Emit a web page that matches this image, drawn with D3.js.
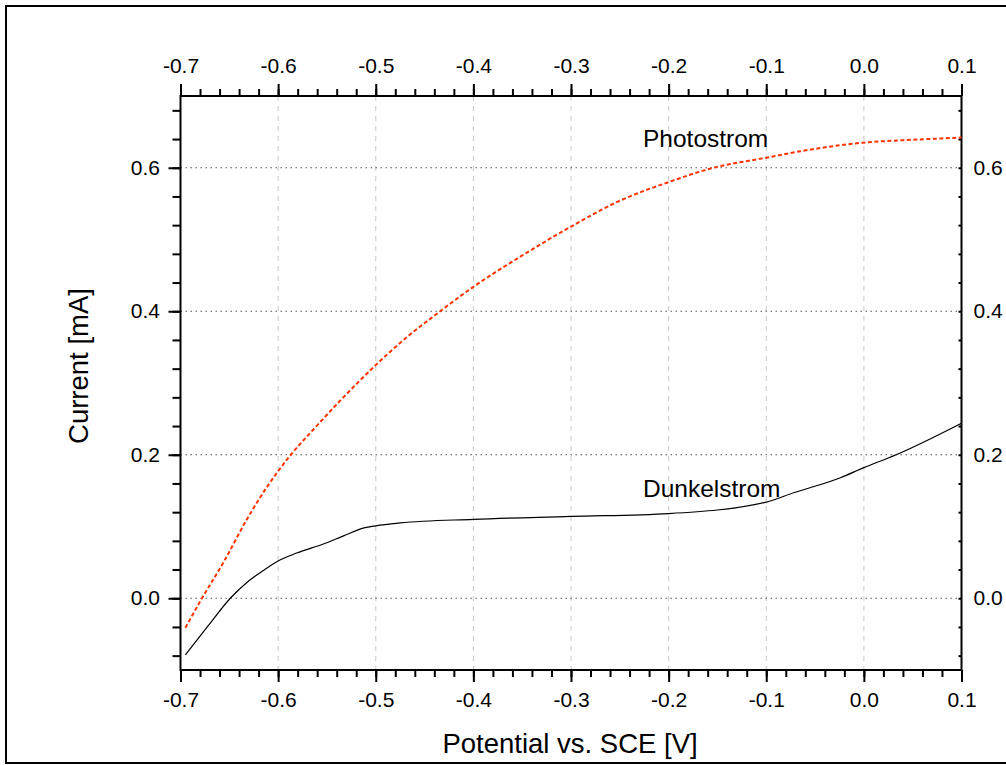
<!DOCTYPE html>
<html>
<head>
<meta charset="utf-8">
<script src="https://d3js.org/d3.v7.min.js"></script>
<style>
body { margin: 0; background: #fff; }
text { font-family: "Liberation Sans", Arial, sans-serif; fill: #000; }
</style>
</head>
<body>
<script>
//data
var photoX = [-0.695, -0.678, -0.656, -0.632, -0.611, -0.6, -0.587, -0.564, -0.536, -0.5, -0.468, -0.434, -0.4, -0.352, -0.3, -0.25, -0.2, -0.154, -0.1, -0.065, 0.0, 0.05, 0.1];
var photoY = [-0.041, 0.0, 0.05, 0.11, 0.156, 0.177, 0.2, 0.235, 0.276, 0.325, 0.364, 0.4, 0.434, 0.476, 0.518, 0.554, 0.58, 0.6, 0.614, 0.623, 0.635, 0.639, 0.642];
var darkX = [-0.695, -0.672, -0.649, -0.632, -0.618, -0.6, -0.581, -0.553, -0.533, -0.512, -0.5, -0.475, -0.4, -0.3, -0.2, -0.1, -0.072, -0.024, 0.0, 0.033, 0.1];
var darkY = [-0.079, -0.039, 0.0, 0.022, 0.036, 0.052, 0.063, 0.076, 0.087, 0.098, 0.101, 0.105, 0.11, 0.114, 0.118, 0.134, 0.147, 0.168, 0.182, 0.2, 0.244];
var xTicks = [-0.7, -0.6, -0.5, -0.4, -0.3, -0.2, -0.1, 0.0, 0.1];
var yTicks = [0.0, 0.2, 0.4, 0.6];

var W = 1006, H = 765;
var pLeft = 180.5, pRight = 961.5, pTop = 96, pBottom = 670;

var x = d3.scaleLinear().domain([-0.7, 0.1]).range([pLeft, pRight]);
var y = d3.scaleLinear().domain([-0.1, 0.7]).range([pBottom, pTop]);

// plain hyphen instead of unicode minus
var fmt = function (d) { return d3.format(".1f")(d).replace("\u2212", "-"); };

var svg = d3.select("body").append("svg")
    .attr("width", W)
    .attr("height", H);

// outer frame
svg.append("rect")
    .attr("x", 6).attr("y", 6)
    .attr("width", 1010).attr("height", 757)
    .attr("fill", "none").attr("stroke", "#000").attr("stroke-width", 2);

// grid
svg.append("g").selectAll("line")
    .data(xTicks.slice(1, -1))
    .enter().append("line")
    .attr("x1", function (d) { return x(d); })
    .attr("x2", function (d) { return x(d); })
    .attr("y1", pTop).attr("y2", pBottom)
    .attr("stroke", "#c8c8c8")
    .attr("stroke-dasharray", "5,5");

svg.append("g").selectAll("line")
    .data(yTicks)
    .enter().append("line")
    .attr("x1", pLeft).attr("x2", pRight)
    .attr("y1", function (d) { return y(d); })
    .attr("y2", function (d) { return y(d); })
    .attr("stroke", "#555")
    .attr("stroke-dasharray", "1.5,3.5");

// axes
var minorX = d3.range(-0.7, 0.1001, 0.02);
var minorY = d3.range(-0.08, 0.7, 0.04);

function styleAxis(g) {
    g.select(".domain").remove();
    g.attr("font-family", null).attr("font-size", null);
    g.selectAll("line").attr("stroke", "#000").attr("stroke-width", 2);
    g.selectAll("text").attr("font-size", 21);
}

svg.append("g").attr("transform", "translate(0," + pBottom + ")")
    .call(d3.axisBottom(x).tickValues(minorX).tickSize(7).tickFormat(""))
    .call(styleAxis);
svg.append("g").attr("transform", "translate(0," + pBottom + ")")
    .call(d3.axisBottom(x).tickValues(xTicks).tickSize(12).tickPadding(10).tickFormat(fmt))
    .call(styleAxis);

svg.append("g").attr("transform", "translate(0," + pTop + ")")
    .call(d3.axisTop(x).tickValues(minorX).tickSize(7).tickFormat(""))
    .call(styleAxis);
svg.append("g").attr("transform", "translate(0," + pTop + ")")
    .call(d3.axisTop(x).tickValues(xTicks).tickSize(12).tickPadding(11).tickFormat(fmt))
    .call(styleAxis);

svg.append("g").attr("transform", "translate(" + pLeft + ",0)")
    .call(d3.axisLeft(y).tickValues(minorY).tickSize(8).tickFormat(""))
    .call(styleAxis);
svg.append("g").attr("transform", "translate(" + pLeft + ",0)")
    .call(d3.axisLeft(y).tickValues(yTicks).tickSize(12).tickPadding(8.5).tickFormat(fmt))
    .call(styleAxis);

svg.append("g").attr("transform", "translate(" + pRight + ",0)")
    .call(d3.axisLeft(y).tickValues(minorY).tickSize(3).tickFormat(""))
    .call(styleAxis);
svg.append("g").attr("transform", "translate(" + pRight + ",0)")
    .call(d3.axisRight(y).tickValues(yTicks).tickSize(0).tickPadding(12).tickFormat(fmt))
    .call(styleAxis);

// box
svg.append("rect")
    .attr("x", pLeft).attr("y", pTop)
    .attr("width", pRight - pLeft).attr("height", pBottom - pTop)
    .attr("fill", "none").attr("stroke", "#000").attr("stroke-width", 2);

// curves
var line = d3.line()
    .x(function (d) { return x(d[0]); })
    .y(function (d) { return y(d[1]); })
    .curve(d3.curveMonotoneX);

svg.append("path")
    .datum(darkX.map(function (v, i) { return [v, darkY[i]]; }))
    .attr("d", line)
    .attr("fill", "none").attr("stroke", "#000").attr("stroke-width", 1.2);

svg.append("path")
    .datum(photoX.map(function (v, i) { return [v, photoY[i]]; }))
    .attr("d", line)
    .attr("fill", "none").attr("stroke", "#ff3300").attr("stroke-width", 2)
    .attr("stroke-dasharray", "4,2.5");

// labels
svg.append("text").text("Photostrom")
    .attr("x", 643).attr("y", 147).attr("font-size", 24.5);
svg.append("text").text("Dunkelstrom")
    .attr("x", 643).attr("y", 497).attr("font-size", 24.5);

svg.append("text").text("Potential vs. SCE [V]")
    .attr("x", 570).attr("y", 753).attr("text-anchor", "middle").attr("font-size", 27.5);
svg.append("text").text("Current [mA]")
    .attr("transform", "translate(88,366) rotate(-90)")
    .attr("text-anchor", "middle").attr("font-size", 27.5);
</script>
</body>
</html>
